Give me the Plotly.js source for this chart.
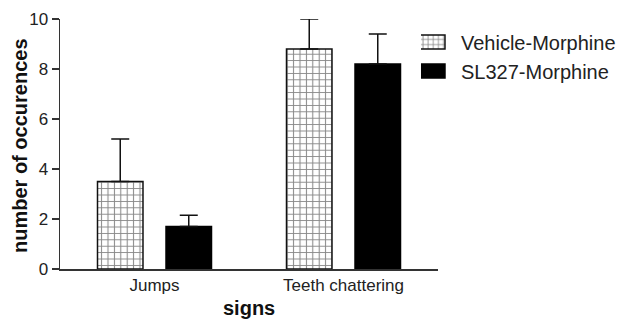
<!DOCTYPE html>
<html>
<head>
<meta charset="utf-8">
<script src="https://cdn.plot.ly/plotly-3.0.1.min.js"></script>
<style>html,body{margin:0;padding:0;background:#fff;}#chart{width:624px;height:320px;}</style>
</head>
<body>
<div id="chart"></div>
<script>
const categories = ["Jumps", "Teeth chattering"];
const seriesNames = ["Vehicle-Morphine", "SL327-Morphine"];
const vehicleValues = [3.5, 8.8];
const vehicleErrors = [1.7, 1.2];
const sl327Values = [1.7, 8.2];
const sl327Errors = [0.45, 1.2];
const yTicks = [0, 2, 4, 6, 8, 10];
const xTitle = "signs";
const yTitle = "number of occurences";

const font = "Arial, 'Liberation Sans', sans-serif";

const traces = [
  {
    type: "bar", name: seriesNames[0], x: categories, y: vehicleValues,
    marker: {color: "#ffffff", line: {color: "#111", width: 1.5},
      pattern: {shape: "+", fgcolor: "#111", bgcolor: "#ffffff", size: 6.4, solidity: 0.3, fillmode: "overlay"}},
    error_y: {type: "data", symmetric: false, array: vehicleErrors, arrayminus: [0, 0],
      color: "#111", thickness: 1.5, width: 9}
  },
  {
    type: "bar", name: seriesNames[1], x: categories, y: sl327Values,
    marker: {color: "#000000", line: {color: "#000", width: 1.5}},
    error_y: {type: "data", symmetric: false, array: sl327Errors, arrayminus: [0, 0],
      color: "#111", thickness: 1.5, width: 9}
  }
];

const layout = {
  width: 624, height: 320,
  margin: {l: 60, r: 186, t: 19, b: 51, autoexpand: false},
  paper_bgcolor: "#fff", plot_bgcolor: "#fff",
  font: {family: font, color: "#222", size: 17},
  barmode: "group", bargap: 0.275, bargroupgap: 0.336,
  showlegend: true,
  legend: {x: 0.955, xanchor: "left", y: 0.986, yanchor: "top",
    font: {family: font, size: 20, color: "#222"}, itemwidth: 30},
  xaxis: {
    type: "category", range: [-0.5, 1.5],
    showline: true, linecolor: "#333", linewidth: 1.5,
    ticks: "", showgrid: false, zeroline: false,
    tickfont: {family: font, size: 17, color: "#222"}
  },
  yaxis: {
    range: [0, 10], tickvals: yTicks,
    showline: true, linecolor: "#333", linewidth: 1.5,
    ticks: "outside", ticklen: 7, tickwidth: 1.5, tickcolor: "#333",
    showgrid: false, zeroline: false,
    tickfont: {family: font, size: 17, color: "#222"}
  },
  annotations: [
    {text: "<b>" + xTitle + "</b>", xref: "paper", yref: "paper", x: 0.5, y: 0,
     xanchor: "center", yanchor: "middle", yshift: -39, showarrow: false,
     font: {family: font, size: 20, color: "#111"}},
    {text: "<b>" + yTitle + "</b>", xref: "paper", yref: "paper", x: 0, y: 0.5,
     xanchor: "center", yanchor: "middle", xshift: -40, yshift: -2, textangle: -90, showarrow: false,
     font: {family: font, size: 20, color: "#111"}}
  ]
};

Plotly.newPlot("chart", traces, layout, {displayModeBar: false, staticPlot: true}).then(function (gd) {
  // widen the legend swatches to the wide rectangles of the original figure
  gd.querySelectorAll(".legend .legendpoints path").forEach(function (p) {
    p.setAttribute("d", "M4,7H-23V-7H4Z");
  });
});
</script>
</body>
</html>
